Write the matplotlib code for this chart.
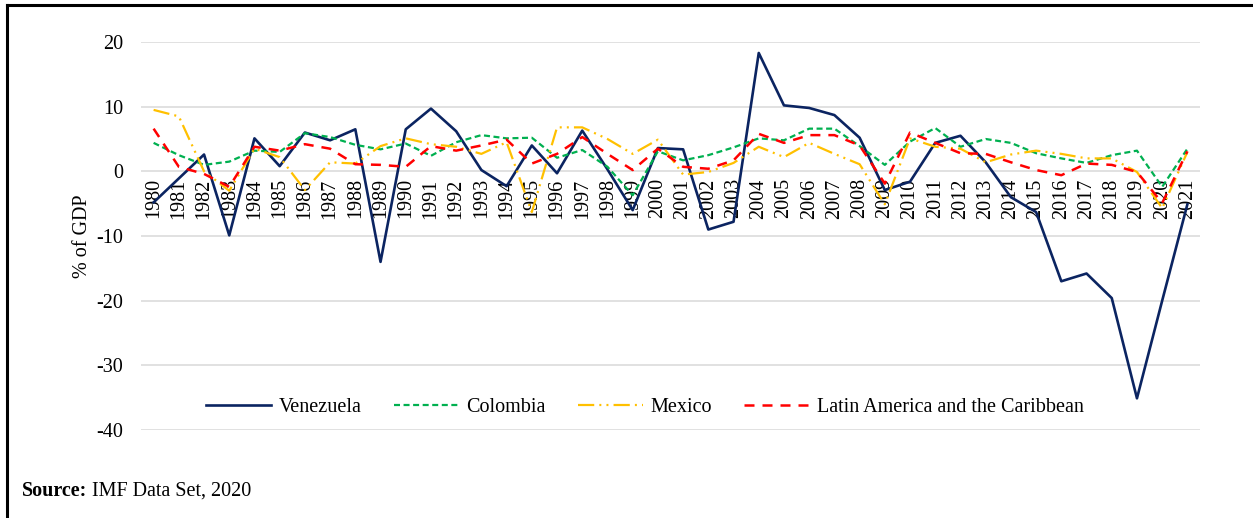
import matplotlib.pyplot as plt
from matplotlib.lines import Line2D

################################################################

years = list(range(1980, 2022))

venezuela = [-4.8, -1.1, 2.6, -9.9, 5.1, 0.8, 6.0, 4.8, 6.5, -14.0,
             6.5, 9.7, 6.2, 0.2, -2.3, 4.0, -0.3, 6.3, 0.3, -6.0,
             3.6, 3.4, -9.0, -7.8, 18.3, 10.2, 9.8, 8.7, 5.2, -2.9,
             -1.6, 4.4, 5.5, 1.4, -4.0, -6.3, -17.0, -15.8, -19.6, -35.1,
             -20.0, -5.1]
colombia = [4.4, 2.5, 1.0, 1.5, 3.2, 3.0, 5.9, 5.3, 4.1, 3.4,
            4.3, 2.4, 4.5, 5.6, 5.1, 5.2, 2.1, 3.3, 0.7, -3.7,
            3.1, 1.7, 2.5, 3.7, 5.1, 4.8, 6.6, 6.6, 3.9, 1.0,
            4.6, 6.7, 3.8, 5.0, 4.4, 2.8, 2.0, 1.3, 2.5, 3.2,
            -2.4, 3.5]
mexico = [9.5, 8.5, 0.0, -3.0, 3.5, 2.2, -2.9, 1.4, 1.2, 3.9,
          5.1, 4.2, 3.8, 2.7, 4.5, -6.3, 6.8, 6.8, 5.0, 2.7,
          4.9, -0.5, -0.1, 1.3, 3.8, 2.2, 4.4, 2.7, 1.1, -5.1,
          5.1, 3.8, 3.5, 1.4, 2.6, 3.2, 2.7, 2.0, 2.0, -0.1,
          -5.7, 3.0]
latam = [6.6, 0.7, -0.4, -2.4, 3.8, 3.2, 4.2, 3.5, 1.1, 1.0,
         0.7, 3.9, 3.2, 4.0, 4.9, 1.2, 2.7, 5.3, 2.7, 0.2,
         3.5, 0.7, 0.4, 1.7, 5.8, 4.4, 5.6, 5.6, 4.0, -1.9,
         6.0, 4.4, 2.8, 2.7, 1.4, 0.2, -0.6, 1.2, 1.0, -0.1,
         -4.9, 3.1]

yticks = [-40, -30, -20, -10, 0, 10, 20]

################################################################

plt.rcParams['font.family'] = 'Liberation Serif'
plt.rcParams['axes.unicode_minus'] = False
W, H = 1253, 518

fig = plt.figure(figsize=(W / 100, H / 100), dpi=100)
ax = fig.add_axes([141 / W, 1 - 430 / H, (1200 - 141) / W, (430 - 42) / H])

ax.plot(years, venezuela, color='#0b2461', lw=1.9, label='Venezuela', zorder=3)
ax.plot(years, colombia, color='#00b050', lw=1.6, dashes=(2.7, 1.6), label='Colombia', zorder=3)
ax.plot(years, mexico, color='#ffc000', lw=1.6, dashes=(7.3, 2.3, 0.9, 2.3, 0.9, 2.3), label='Mexico', zorder=3)
ax.plot(years, latam, color='#ff0000', lw=1.8, dashes=(4, 3.2), label='Latin America and the Caribbean', zorder=3)

# x axis crosses at zero (set before tick labels, it resets the ticks)
for s in ax.spines.values():
  s.set_visible(False)
ax.spines['bottom'].set_position(('data', 0))

ax.set_xlim(1979.5, 2021.5)
ax.set_ylim(-40, 20)
ax.set_yticks(yticks)
ax.set_xticks(years)
ax.set_xticklabels([str(y) for y in years], rotation=90, va='top', fontsize=14.5)
ax.grid(axis='y', color='#d9d9d9', lw=1.1, zorder=0)
ax.grid(axis='x', visible=False)

ax.tick_params(axis='both', length=0, labelsize=14.5)
ax.tick_params(axis='y', pad=13)
ax.tick_params(axis='x', pad=5)

ax.set_ylabel('% of GDP', fontsize=14.5, labelpad=3)

ax.legend(loc='center', bbox_to_anchor=(0.476, 0.059), ncol=4, frameon=False,
          fontsize=14.5, handlelength=3.2, handletextpad=0.4, columnspacing=1.6)

src = fig.text(22 / W, 1 - 491 / H, 'Source:', fontsize=14.5, fontweight='bold', va='center')
plt.annotate(' IMF Data Set, 2020', xy=(1, 0), xycoords=src, fontsize=14.5,
             ha='left', va='bottom')

# outer frame (top and left edges visible in the original)
fig.add_artist(Line2D([7 / W, 1], [1 - 5 / H, 1 - 5 / H], color='black', lw=2.2))
fig.add_artist(Line2D([7 / W, 7 / W], [0, 1 - 5 / H], color='black', lw=2.2))

fig.savefig('out.png', dpi=100)
